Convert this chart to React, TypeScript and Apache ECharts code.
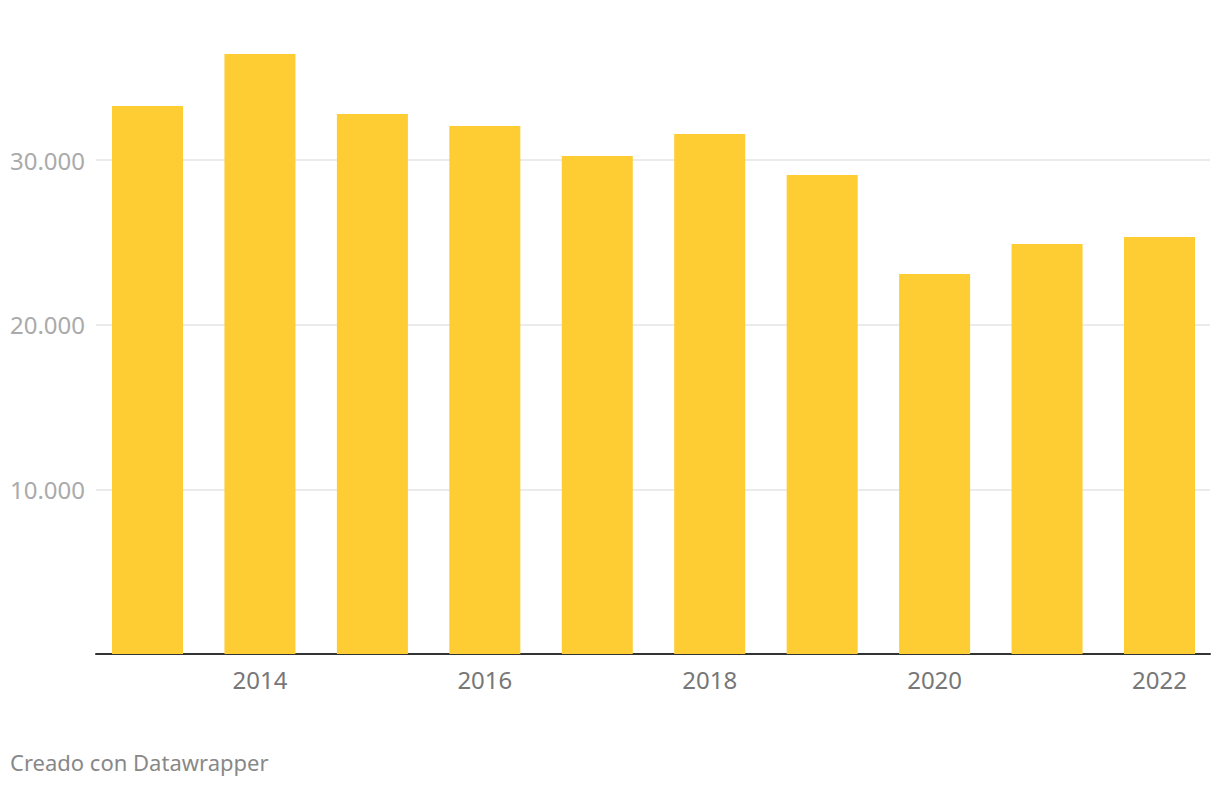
import React, { useEffect, useRef } from "react";
import * as echarts from "echarts";

const years = [2013, 2014, 2015, 2016, 2017, 2018, 2019, 2020, 2021, 2022];
const values = [33280, 36440, 32790, 32060, 30240, 31580, 29090, 23080, 24900, 25320];
const yearLabels = [2014, 2016, 2018, 2020, 2022];
const footer = "Creado con Datawrapper";

export default function App() {
  const ref = useRef<HTMLDivElement>(null);
  useEffect(() => {
    if (!ref.current) return;
    const chart = echarts.init(ref.current, undefined, { renderer: "svg" });
    const font = "'Noto Sans', 'Open Sans', sans-serif";
    chart.setOption({
      animation: false,
      backgroundColor: "#ffffff",
      grid: { left: 96, right: 10, top: 28.27, bottom: 134, containLabel: false },
      xAxis: {
        type: "value",
        min: 2012.542,
        max: 2022.449,
        axisLine: { show: true, lineStyle: { color: "#333333", width: 2 } },
        axisTick: { show: false },
        splitLine: { show: false },
        axisLabel: {
          customValues: yearLabels,
          formatter: (v: number) => String(v),
          color: "#777777",
          fontSize: 24,
          fontFamily: font,
          margin: 13,
        },
      },
      yAxis: {
        type: "value",
        min: 0,
        max: 38000,
        interval: 10000,
        axisLine: { show: false },
        axisTick: { show: false },
        splitLine: {
          show: true,
          showMinLine: false,
          showMaxLine: false,
          lineStyle: { color: "#e5e5e5", width: 1.5 },
        },
        axisLabel: {
          formatter: (v: number) => (v === 0 || v % 10000 !== 0 ? "" : v / 1000 + ".000"),
          color: "#aaaaaa",
          fontSize: 24,
          fontFamily: font,
          margin: 11,
        },
      },
      series: [
        {
          type: "bar",
          barWidth: 71,
          itemStyle: { color: "#fecc33" },
          data: years.map((y, i) => [y, values[i]]),
          z: 1,
        },
      ],
      graphic: [
        {
          type: "text",
          left: 10,
          top: 751,
          style: { text: footer, fontSize: 22, fill: "#888888", fontFamily: font },
        },
      ],
    });
    return () => chart.dispose();
  }, []);
  return (
    <div
      ref={ref}
      style={{ position: "fixed", left: 0, top: 0, width: 1220, height: 788 }}
    />
  );
}
